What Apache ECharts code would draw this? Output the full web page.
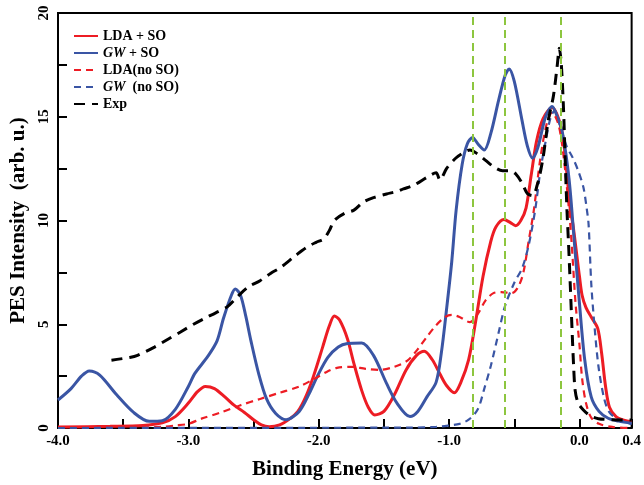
<!DOCTYPE html>
<html>
<head>
<meta charset="utf-8" />
<script src="https://cdn.jsdelivr.net/npm/echarts@6/dist/echarts.min.js"></script>
<style>
  html, body { margin: 0; padding: 0; background: #fff; }
  #chart { width: 644px; height: 485px; }
</style>
</head>
<body>
<div id="chart"></div>
<script>
// binding energy (eV) vs intensity
const ldaSO = [
  [-4.0, 0.05], [-3.6, 0.08], [-3.35, 0.12], [-3.2, 0.25], [-3.1, 0.55], [-3.0, 1.2],
  [-2.93, 1.75], [-2.87, 2.0], [-2.8, 1.9], [-2.72, 1.5], [-2.65, 1.1], [-2.57, 0.75],
  [-2.5, 0.4], [-2.44, 0.15], [-2.38, 0.06], [-2.3, 0.15], [-2.22, 0.45], [-2.16, 0.8],
  [-2.1, 1.5], [-2.04, 2.5], [-1.97, 3.9], [-1.92, 4.9], [-1.88, 5.4], [-1.84, 5.2],
  [-1.78, 4.3], [-1.73, 3.1], [-1.67, 1.8], [-1.62, 1.0], [-1.57, 0.63], [-1.5, 0.8],
  [-1.42, 1.6], [-1.33, 2.8], [-1.25, 3.5], [-1.19, 3.7], [-1.13, 3.3], [-1.07, 2.6],
  [-1.02, 2.05], [-0.96, 1.7], [-0.91, 2.2], [-0.85, 3.3], [-0.8, 5.0], [-0.74, 7.3],
  [-0.68, 9.0], [-0.64, 9.7], [-0.58, 10.05], [-0.53, 9.9], [-0.49, 9.75], [-0.45, 10.0],
  [-0.41, 10.6], [-0.37, 12.2], [-0.33, 13.8], [-0.28, 14.9], [-0.21, 15.45], [-0.16, 14.9],
  [-0.12, 13.7], [-0.07, 10.5], [-0.05, 9.8], [0.0, 7.3], [0.02, 6.4], [0.05, 5.8],
  [0.09, 5.35], [0.14, 4.8], [0.17, 3.6], [0.2, 2.0], [0.23, 1.0], [0.28, 0.55],
  [0.34, 0.38], [0.4, 0.3]
];
const gwSO = [
  [-4.0, 1.35], [-3.9, 1.9], [-3.82, 2.5], [-3.76, 2.75], [-3.68, 2.55], [-3.55, 1.6],
  [-3.42, 0.75], [-3.3, 0.32], [-3.2, 0.35], [-3.1, 0.9], [-3.0, 2.0], [-2.95, 2.63],
  [-2.85, 3.46], [-2.78, 4.2], [-2.73, 5.3], [-2.67, 6.4], [-2.64, 6.7], [-2.6, 6.4],
  [-2.56, 5.4], [-2.52, 4.2], [-2.46, 2.6], [-2.4, 1.4], [-2.33, 0.7], [-2.25, 0.4],
  [-2.15, 0.8], [-2.07, 1.7], [-2.01, 2.5], [-1.93, 3.4], [-1.85, 3.9], [-1.78, 4.07],
  [-1.67, 4.1], [-1.58, 3.5], [-1.48, 2.15], [-1.4, 1.2], [-1.3, 0.55], [-1.24, 0.8],
  [-1.17, 1.5], [-1.1, 2.2], [-1.06, 3.6], [-1.02, 5.7], [-0.98, 8.0], [-0.946, 10.5],
  [-0.9, 12.7], [-0.86, 13.7], [-0.82, 14.0], [-0.78, 13.7], [-0.73, 13.4], [-0.68, 14.2],
  [-0.62, 15.8], [-0.57, 17.0], [-0.54, 17.3], [-0.5, 16.7], [-0.44, 14.8], [-0.4, 13.6],
  [-0.36, 13.0], [-0.32, 13.5], [-0.26, 15.0], [-0.21, 15.5], [-0.17, 15.0], [-0.13, 14.2],
  [-0.08, 12.0], [-0.04, 9.0], [0.0, 6.0], [0.04, 3.3], [0.09, 1.5], [0.15, 0.8],
  [0.22, 0.47], [0.3, 0.33], [0.4, 0.23]
];
const ldaNoSO = [
  [-4.0, 0.0], [-3.4, 0.02], [-3.2, 0.06], [-3.1, 0.12], [-3.0, 0.2], [-2.9, 0.45],
  [-2.75, 0.75], [-2.6, 1.1], [-2.45, 1.4], [-2.3, 1.7], [-2.15, 2.0], [-2.04, 2.35],
  [-1.94, 2.7], [-1.86, 2.9], [-1.75, 2.95], [-1.64, 2.85], [-1.53, 2.8], [-1.42, 2.95],
  [-1.32, 3.25], [-1.24, 3.8], [-1.17, 4.4], [-1.1, 4.95], [-1.03, 5.35], [-0.98, 5.45],
  [-0.92, 5.35], [-0.84, 5.1], [-0.78, 5.5], [-0.72, 6.15], [-0.66, 6.5], [-0.6, 6.55],
  [-0.52, 6.5], [-0.47, 6.8], [-0.43, 7.5], [-0.39, 9.0], [-0.35, 10.5], [-0.3, 13.0],
  [-0.25, 14.7], [-0.21, 15.2], [-0.16, 14.6], [-0.12, 13.0], [-0.08, 10.5], [-0.06, 8.9],
  [-0.03, 6.0], [0.0, 4.0], [0.02, 2.4], [0.05, 1.2], [0.09, 0.5], [0.15, 0.2],
  [0.25, 0.05], [0.4, 0.0]
];
const gwNoSO = [
  [-4.0, 0.0], [-1.3, 0.02], [-1.1, 0.05], [-1.0, 0.12], [-0.92, 0.2], [-0.85, 0.4],
  [-0.78, 0.9], [-0.73, 1.9], [-0.68, 3.0], [-0.62, 4.6], [-0.57, 5.9], [-0.5, 7.0],
  [-0.44, 7.7], [-0.39, 8.8], [-0.34, 10.5], [-0.3, 12.4], [-0.26, 13.8], [-0.22, 15.0],
  [-0.19, 15.3], [-0.15, 14.6], [-0.1, 13.6], [-0.05, 13.0], [-0.01, 12.4], [0.03, 11.6],
  [0.055, 10.6], [0.07, 9.8], [0.09, 7.0], [0.11, 5.3], [0.145, 3.0], [0.19, 1.4],
  [0.23, 0.75], [0.3, 0.4], [0.4, 0.2]
];
const expData = [
  [-3.59, 3.27], [-3.45, 3.4], [-3.39, 3.5], [-3.26, 3.9], [-3.15, 4.3], [-3.06, 4.63],
  [-2.96, 5.0], [-2.88, 5.27], [-2.79, 5.55], [-2.7, 5.85], [-2.62, 6.35], [-2.54, 6.8],
  [-2.45, 7.1], [-2.37, 7.45], [-2.29, 7.75], [-2.18, 8.3], [-2.09, 8.72], [-2.02, 8.95],
  [-1.96, 9.12], [-1.92, 9.5], [-1.88, 10.0], [-1.8, 10.35], [-1.73, 10.5], [-1.66, 10.88],
  [-1.58, 11.1], [-1.48, 11.28], [-1.4, 11.4], [-1.35, 11.52], [-1.27, 11.7], [-1.17, 12.08],
  [-1.1, 12.3], [-1.07, 11.95], [-1.02, 12.5], [-0.95, 13.0], [-0.88, 13.3], [-0.84, 13.4],
  [-0.78, 13.2], [-0.72, 12.9], [-0.66, 12.6], [-0.59, 12.4], [-0.53, 12.4], [-0.49, 12.25],
  [-0.44, 11.8], [-0.4, 11.3], [-0.36, 11.2], [-0.32, 11.8], [-0.28, 13.0], [-0.24, 14.8],
  [-0.2, 16.0], [-0.17, 17.5], [-0.155, 18.3], [-0.14, 17.6], [-0.122, 15.3], [-0.11, 13.0],
  [-0.096, 10.5], [-0.084, 8.9], [-0.07, 6.8], [-0.058, 4.9], [-0.045, 3.0], [-0.033, 1.8],
  [-0.01, 1.2], [0.03, 0.87], [0.08, 0.6], [0.145, 0.45], [0.25, 0.4], [0.35, 0.38],
  [0.4, 0.38]
];
// green vertical guide lines
const guideLines = [-0.82, -0.57, -0.14];

const seriesNames = ["LDA + SO", "GW + SO", "LDA(no SO)", "GW  (no SO)", "Exp"];
const xTickLabels = [-4.0, -3.0, -2.0, -1.0, 0.0, 0.4];
const yTickLabels = [0, 5, 10, 15, 20];

const serif = "Liberation Serif";
const red = "#ed1c24";
const blue = "#3a55a4";

const chart = echarts.init(document.getElementById("chart"));

function curve(name, data, color, width, dash) {
  return {
    name: name,
    type: "line",
    data: data,
    symbol: "none",
    showSymbol: false,
    smooth: 0.3,
    lineStyle: { color: color, width: width, type: dash || "solid" },
    itemStyle: { color: color },
    z: 3,
  };
}

chart.setOption({
  animation: false,
  grid: {
    left: 58,
    right: 8,
    top: 13,
    bottom: 57,
    show: true,
    borderColor: "#000",
    borderWidth: 2,
  },
  legend: {
    data: seriesNames,
    orient: "vertical",
    left: 68,
    top: 24,
    itemWidth: 24,
    itemHeight: 14,
    itemGap: 3,
    // hide the marker dot, keep only the line sample
    itemStyle: { opacity: 0 },
    formatter: (name) => name.replace("GW", "{i|GW}"),
    textStyle: {
      fontFamily: serif,
      fontWeight: "bold",
      fontSize: 14,
      color: "#000",
      rich: {
        i: { fontFamily: serif, fontWeight: "bold", fontStyle: "italic", fontSize: 14, color: "#000" },
      },
    },
  },
  xAxis: {
    type: "value",
    min: -4,
    max: 0.4,
    interval: 0.5,
    name: "Binding Energy (eV)",
    nameLocation: "middle",
    nameGap: 31,
    nameTextStyle: { fontFamily: serif, fontWeight: "bold", fontSize: 21, color: "#000" },
    axisLine: { onZero: false, lineStyle: { color: "#000", width: 2 } },
    axisTick: { inside: true, length: 9, lineStyle: { color: "#000", width: 2 } },
    axisLabel: {
      showMaxLabel: true,
      showMinLabel: true,
      margin: 6,
      fontFamily: serif,
      fontWeight: "bold",
      fontSize: 15,
      color: "#000",
      formatter: (v) => (xTickLabels.some((t) => Math.abs(t - v) < 1e-6) ? v.toFixed(1) : ""),
    },
    splitLine: { show: false },
  },
  yAxis: {
    type: "value",
    min: 0,
    max: 20,
    interval: 2.5,
    name: "PES Intensity  (arb. u.)",
    nameLocation: "middle",
    nameGap: 26,
    nameTextStyle: { fontFamily: serif, fontWeight: "bold", fontSize: 21, color: "#000" },
    axisLine: { onZero: false, lineStyle: { color: "#000", width: 2 } },
    axisTick: { inside: true, length: 9, lineStyle: { color: "#000", width: 2 } },
    axisLabel: {
      rotate: 90,
      margin: 6,
      fontFamily: serif,
      fontWeight: "bold",
      fontSize: 15,
      color: "#000",
      formatter: (v) => (yTickLabels.indexOf(v) >= 0 ? String(v) : ""),
    },
    splitLine: { show: false },
  },
  series: [
    {
      name: "guides",
      type: "line",
      data: [],
      z: 1,
      markLine: {
        silent: true,
        symbol: "none",
        label: { show: false },
        lineStyle: { color: "#8dc63f", width: 2, type: [8, 5] },
        data: guideLines.map((x) => ({ xAxis: x })),
      },
    },
    curve(seriesNames[0], ldaSO, red, 3),
    curve(seriesNames[1], gwSO, blue, 3),
    curve(seriesNames[2], ldaNoSO, red, 2.2, [7, 5]),
    curve(seriesNames[3], gwNoSO, blue, 2.2, [7, 5]),
    curve(seriesNames[4], expData, "#000", 3, [11, 7]),
  ],
});
</script>
</body>
</html>
